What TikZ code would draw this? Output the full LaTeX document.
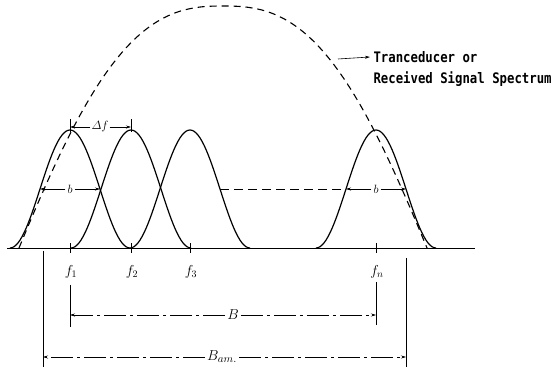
\documentclass[tikz,border=0pt]{standalone}
\usepackage{amsmath,amssymb}
\usepackage{fontspec}
\newfontfamily\specfont[FakeStretch=0.85]{DejaVu Sans Mono}
\usetikzlibrary{arrows.meta,positioning,calc}

\begin{document}
\begin{tikzpicture}[x=1pt,y=1pt,
		bell/.style={line width=1.2pt},
		envelope/.style={line width=1.1pt, dash pattern=on 7pt off 5pt},
		arr/.style={line width=0.6pt, -{Stealth[length=5pt,width=3pt]}},
		chain/.style={dash pattern=on 22pt off 4pt on 3pt off 4pt},
		extline/.style={line width=0.7pt},
		lbl/.style={fill=white, inner sep=2pt, font=\fontsize{13}{15}\selectfont},
		biglbl/.style={lbl, font=\fontsize{15}{17}\selectfont},
		freq/.style={inner sep=1pt, font=\fontsize{14}{16}\selectfont}]
		\useasboundingbox (0,-126) rectangle (560,248);
		% frequency axis and channel spectra
		\draw[line width=0.8pt] (7,0) -- (475,0);
		\foreach \c/\n/\t in {70/f1/1, 131/f2/2, 190/f3/3, 376/fn/n} {
			\draw[bell] plot[domain=-60:60, samples=61] ({\c+\x},{59*(1+cos(3*\x))});
			\draw[extline] (\c,-5) -- (\c,5);
			\node[freq] (\n) at (\c+1,-24) {$f_{\t}$};
		}
		% envelope
		\draw[envelope] plot[domain=-204:204, samples=80, smooth] ({223+\x},{242*cos(90*pow(abs(\x)/204,1.3))});
		\node[anchor=west, font=\specfont\bfseries\fontsize{14.5}{16}\selectfont] (spec1) at (370,191) {Tranceducer or};
		\node[anchor=west, font=\specfont\bfseries\fontsize{14.5}{16}\selectfont] (spec2) at (370,169) {Received Signal Spectrum};
		\coordinate (lead) at (338,189);
		\draw[arr] (lead) -- (spec1.west);
		% channel spacing
		\node[lbl, inner sep=1pt] (df) at (100,121) {$\varDelta f$};
		\coordinate (dfl) at (70,121);
		\coordinate (dfr) at (131,121);
		\draw[arr] (df.west) -- (dfl);
		\draw[arr] (df.east) -- (dfr);
		\draw[extline] ($(dfl)+(0,-5)$) -- ($(dfl)+(0,8)$);
		\draw[extline] ($(dfr)+(0,-5)$) -- ($(dfr)+(0,8)$);
		% channel bandwidth
		\node[lbl] (b1) at (70,59) {$b$};
		\coordinate (b1l) at (40,59);
		\coordinate (b1r) at (100,59);
		\draw[arr] (b1) -- (b1l);
		\draw[arr] (b1) -- (b1r);
		\node[lbl] (b2) at (376,59) {$b$};
		\coordinate (b2l) at (346,59);
		\coordinate (b2r) at (406,59);
		\coordinate (b3) at (220,59);
		\draw[line width=0.8pt, dash pattern=on 9pt off 5pt] (b3) -- (b2l);
		\draw[arr] (b2) -- (b2l);
		\draw[arr] (b2) -- (b2r);
		% total bandwidth B
		\draw[extline] (70,-37) -- (70,-79);
		\draw[extline] (376,-34) -- (376,-77);
		\node[biglbl] (B) at (233,-67) {$B$};
		\coordinate (Bl) at (70,-67);
		\coordinate (Br) at (376,-67);
		\draw[arr, chain] (B) -- (Bl);
		\draw[arr, chain] (B) -- (Br);
		% occupied bandwidth
		\draw[extline] (43,-3) -- (43,-119);
		\draw[extline] (406,-10) -- (406,-119);
		\node[biglbl] (Bam) at (222,-109) {$B_{am.}$};
		\coordinate (Baml) at (43,-109);
		\coordinate (Bamr) at (406,-109);
		\draw[arr, chain] (Bam) -- (Baml);
		\draw[arr, chain] (Bam) -- (Bamr);
	\end{tikzpicture}
\end{document}
